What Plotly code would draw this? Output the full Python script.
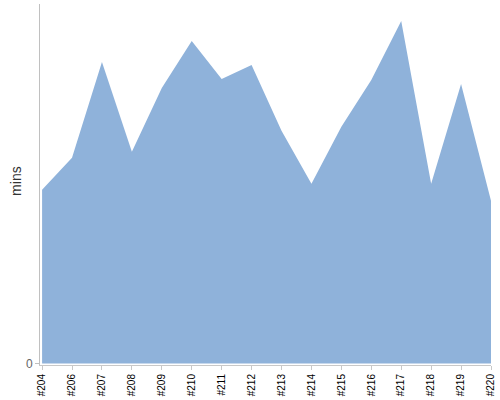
import plotly.graph_objects as PGraph

builds = ["#204", "#206", "#207", "#208", "#209", "#210", "#211", "#212",
          "#213", "#214", "#215", "#216", "#217", "#218", "#219", "#220"]
mins = [17.4, 20.6, 30.2, 21.2, 27.6, 32.3, 28.5, 29.9,
        23.3, 18.0, 23.7, 28.4, 34.3, 18.0, 28.0, 16.3]

fig = PGraph.Figure()
fig.add_trace(PGraph.Scatter(x=builds, y=mins, mode="lines", fill="tozeroy",
                             fillcolor="rgb(143,178,218)",
                             line=dict(width=0, color="rgb(143,178,218)"),
                             hoverinfo="x+y"))

fig.update_layout(
    width=500, height=400,
    margin=dict(l=40, r=9, t=4, b=35),
    paper_bgcolor="white", plot_bgcolor="white",
    showlegend=False,
    font=dict(family="Liberation Sans, Arial, sans-serif"),
    xaxis=dict(type="category", range=[-0.07, 15], tickangle=-90,
               automargin=False,
               showgrid=False, zeroline=False,
               showline=True, linecolor="#c8c8c8", linewidth=1,
               ticks="outside", ticklen=4, tickcolor="#c8c8c8",
               tickfont=dict(size=10, color="black")),
    yaxis=dict(range=[-0.15, 36], tickvals=[0], ticktext=["0"],
               automargin=False,
               showgrid=False, zeroline=False,
               showline=True, linecolor="#c0c0c0", linewidth=1,
               ticks="outside", ticklen=4, tickcolor="#c0c0c0",
               tickfont=dict(size=12, color="#666666")),
    annotations=[dict(text="mins", xref="paper", yref="paper",
                      x=0, y=0.51, xshift=-24, xanchor="center",
                      yanchor="middle", showarrow=False,
                      textangle=-90, font=dict(size=14, color="#333333"))],
)

# page has a default 8px body margin, drop it so the chart sits at 0,0
fig.write_html("out.html", config={"displayModeBar": False},
               post_script="document.body.style.margin='0';")
